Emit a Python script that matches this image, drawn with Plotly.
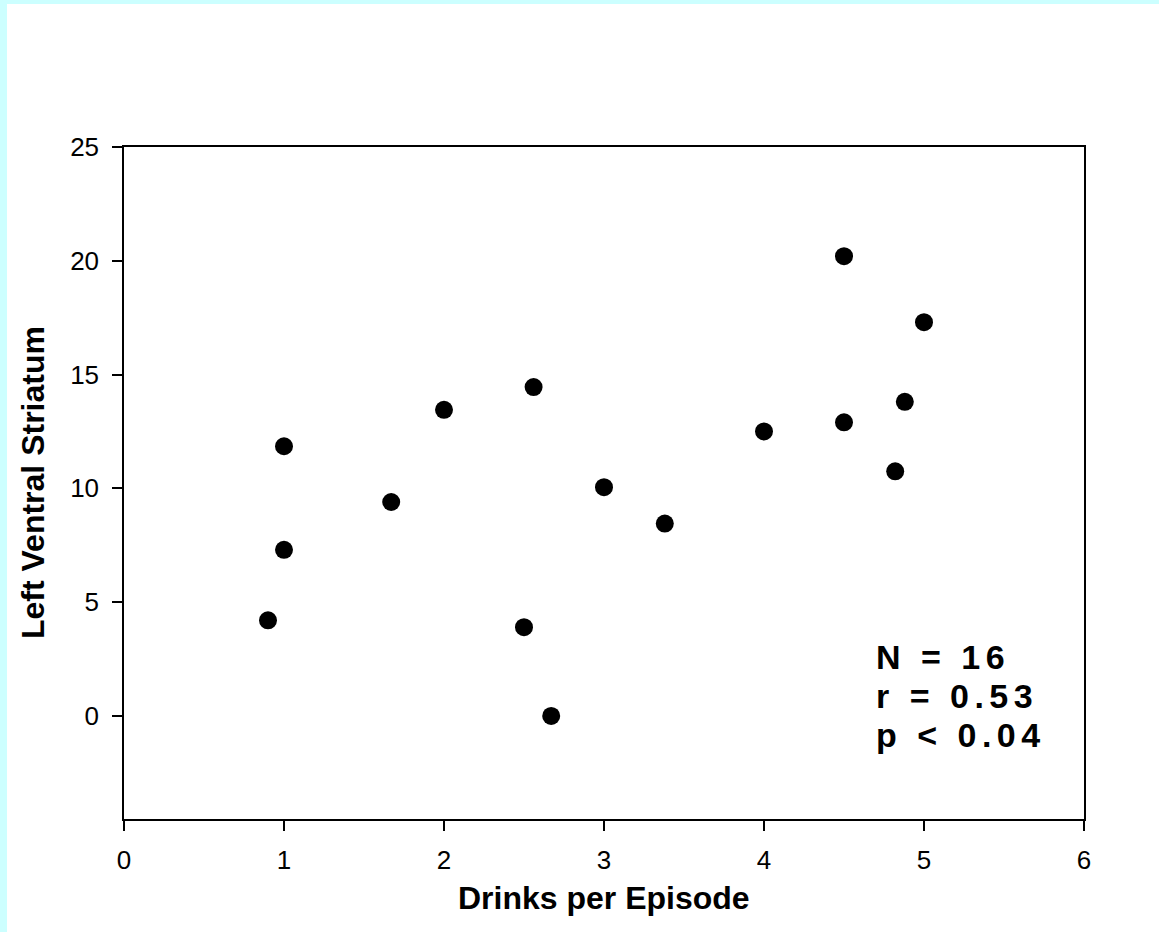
import plotly.graph_objects as go

# Data
drinks_per_episode = [0.9, 1.0, 1.0, 1.67, 2.0, 2.5, 2.56, 2.67, 3.0, 3.38, 4.0, 4.5, 4.5, 4.82, 4.88, 5.0]
left_ventral_striatum = [4.2, 7.3, 11.85, 9.4, 13.45, 3.9, 14.45, 0.0, 10.05, 8.45, 12.5, 20.2, 12.9, 10.75, 13.8, 17.3]

x_ticks = [0, 1, 2, 3, 4, 5, 6]
y_ticks = [0, 5, 10, 15, 20, 25]
x_title = "Drinks per Episode"
y_title = "Left Ventral Striatum"
stats_lines = ["N = 16", "r = 0.53", "p &lt; 0.04"]

W, H = 1159, 932
ML, MR, MT, MB = 124, 75, 147, 113
PW, PH = W - ML - MR, H - MT - MB

FONT = "Arial, 'Liberation Sans', sans-serif"

fig = go.Figure()
fig.add_trace(go.Scatter(
    x=drinks_per_episode, y=left_ventral_striatum, mode="markers",
    marker=dict(size=18, color="black", line=dict(width=0)),
    showlegend=False, hoverinfo="x+y",
))

axis_common = dict(
    showgrid=False, zeroline=False, showline=True, linecolor="black", linewidth=1.5,
    mirror=True, ticks="outside", ticklen=10, tickwidth=1.5, tickcolor="black",
    tickfont=dict(family=FONT, size=26, color="black"),
)

fig.update_xaxes(range=[0, 6], tickvals=x_ticks, ticklabelstandoff=7, **axis_common)
fig.update_yaxes(range=[-4.53, 25], tickvals=y_ticks, ticklabelstandoff=8, **axis_common)

# axis titles
fig.add_annotation(
    x=0.5, y=-(898 - (H - MB)) / PH, xref="paper", yref="paper",
    xanchor="center", yanchor="middle", showarrow=False,
    text="<b>" + x_title + "</b>", font=dict(family=FONT, size=32, color="black"),
)
fig.add_annotation(
    x=-(ML - 33) / PW, y=0.5, xref="paper", yref="paper",
    xanchor="center", yanchor="middle", showarrow=False, textangle=-90,
    text="<b>" + y_title + "</b>", font=dict(family=FONT, size=32, color="black"),
)

# white inner page over light-cyan border
fig.add_shape(
    type="rect", xref="paper", yref="paper", layer="below",
    x0=-(ML - 7) / PW, x1=(PW + MR + 5) / PW,
    y0=-(MB + 5) / PH, y1=1 + (MT - 4) / PH,
    fillcolor="white", line=dict(width=0),
)

# statistics block, one line per annotation
stat_y = [2.59, 0.88, -0.83]
for line, yv in zip(stats_lines, stat_y):
    fig.add_annotation(
        x=4.69, y=yv, xref="x", yref="y", xanchor="left", yanchor="middle",
        text='<span style="letter-spacing:5.5px">' + line + "</span>",
        font=dict(family=FONT, size=34, color="black", weight="bold"),
        align="left", showarrow=False,
    )

fig.update_layout(
    width=W, height=H, autosize=False,
    margin=dict(l=ML, r=MR, t=MT, b=MB),
    paper_bgcolor="#CCFFFF", plot_bgcolor="white",
    font=dict(family=FONT, color="black"),
)

fig.write_html("out.html")
